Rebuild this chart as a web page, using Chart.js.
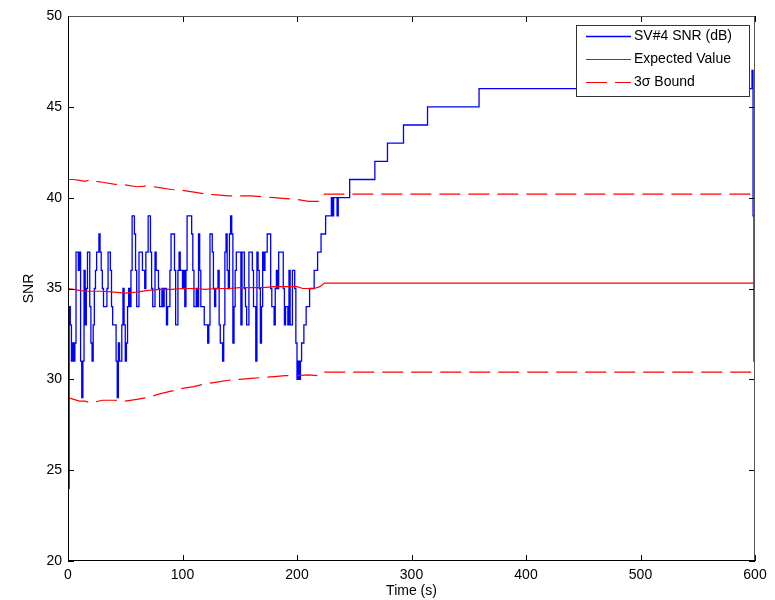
<!DOCTYPE html>
<html lang="en">
<head>
<meta charset="UTF-8">
<title>SV#4 SNR</title>
<script src="https://cdn.jsdelivr.net/npm/chart.js"></script>
<style>
  html, body { margin: 0; padding: 0; background: #fff; }
  #wrap { width: 775px; height: 600px; }
</style>
</head>
<body>
<div id="wrap"><canvas id="snrChart" width="775" height="600"></canvas></div>
<script>
// SNR samples, one per second from t = 0 s
const snrNoisy = [
  24,34,33,31,32,31,32,37,37,36,
  37,31,29,31,36,33,35,37,37,34,
  32,31,33,35,36,37,37,38,37,36,
  35,34,34,34,35,37,37,36,34,33,
  33,33,31,29,32,31,31,33,35,33,
  31,32,34,35,34,36,39,39,38,36,
  34,34,37,37,37,36,36,35,37,37,
  39,39,37,35,34,34,37,36,36,35,
  34,34,35,34,35,35,33,34,34,36,
  38,38,38,36,33,33,36,37,36,36,
  35,36,34,36,39,39,39,39,38,36,
  34,34,35,34,38,36,34,34,34,33,
  33,33,32,33,38,38,37,35,34,35,
  35,36,33,32,32,31,33,37,38,36,
  35,38,39,38,32,34,36,37,37,37,
  37,33,37,37,35,34,33,33,37,37,
  37,36,34,34,31,37,36,35,32,34,
  37,36,37,37,38,38,38,35,34,34,
  33,35,36,35,37,37,37,37,35,33,
  34,34,33,36,33,33,36,36,35,32,
  30,31,30,31,32,32,33,33,34,34,
  34,35,35,35,35,36,36,36,37,37,
  37,38,38,38,38,39,39,39,39,39,
  40,39,40,40,40,39,40,40,40
];
// later SNR steps
const snrStepTimes  = [246, 268, 279, 293, 314, 359, 597.4, 598.3, 599.1, 600];
const snrStepValues = [41,  42,  43,  44,  45,  46,  47,    39,    31,    31];

// expected value
const expTimes  = [0, 5, 10, 15, 20, 30, 40, 50, 60, 70, 80, 90, 100, 110, 120, 130, 140, 150, 160, 170, 180, 190, 200, 205, 210, 215, 220, 224, 600];
const expValues = [35.0, 34.95, 34.9, 34.85, 34.85, 34.85, 34.8, 34.75, 34.8, 34.9, 34.95, 34.95, 35.0, 35.0, 34.95, 35.0, 35.0, 35.05, 35.05, 35.05, 35.1, 35.1, 35.1, 35.0, 35.0, 35.0, 35.1, 35.3, 35.3];

// 3 sigma bounds
const upTimes  = [0, 5, 10, 15, 20, 25, 30, 40, 50, 60, 70, 80, 90, 100, 110, 120, 130, 140, 150, 160, 170, 180, 190, 200, 210, 219, 224, 600];
const upValues = [41.0, 41.0, 40.95, 40.9, 41.0, 40.9, 40.85, 40.75, 40.7, 40.6, 40.65, 40.55, 40.45, 40.4, 40.3, 40.2, 40.15, 40.1, 40.1, 40.1, 40.05, 40.0, 39.95, 39.9, 39.8, 39.8, 40.2, 40.2];
const loTimes  = [0, 5, 10, 15, 20, 30, 40, 50, 60, 70, 80, 90, 100, 110, 120, 130, 140, 150, 160, 170, 180, 190, 200, 210, 219, 224, 600];
const loValues = [29.0, 28.9, 28.8, 28.8, 28.7, 28.85, 28.85, 28.8, 28.9, 29.0, 29.2, 29.35, 29.5, 29.6, 29.75, 29.85, 29.95, 30.0, 30.05, 30.1, 30.15, 30.2, 30.2, 30.25, 30.2, 30.4, 30.4];

const xTicks = [0, 100, 200, 300, 400, 500, 600];
const yTicks = [20, 25, 30, 35, 40, 45, 50];

function pairs(xs, ys) {
  return xs.map((x, i) => ({ x: x, y: ys[i] }));
}

const snrData = snrNoisy.map((v, i) => ({ x: i, y: v })).concat(pairs(snrStepTimes, snrStepValues));

const FONT = { family: 'Arial, "Liberation Sans", sans-serif', size: 14 };

// box, inward ticks and the legend, MATLAB style
const boxPlugin = {
  id: 'boxPlugin',
  afterDraw(chart) {
    const ctx = chart.ctx;
    const ca = chart.chartArea;
    const xs = chart.scales.x, ys = chart.scales.y;
    ctx.save();
    ctx.lineWidth = 1;

    // ticks
    ctx.strokeStyle = '#000';
    ctx.beginPath();
    xTicks.forEach(v => {
      const px = Math.round(xs.getPixelForValue(v)) + 0.5;
      ctx.moveTo(px, ca.bottom); ctx.lineTo(px, ca.bottom - 6);
      ctx.moveTo(px, ca.top); ctx.lineTo(px, ca.top + 6);
    });
    yTicks.forEach(v => {
      const py = Math.round(ys.getPixelForValue(v)) + 0.5;
      ctx.moveTo(ca.left, py); ctx.lineTo(ca.left + 6, py);
      ctx.moveTo(ca.right, py); ctx.lineTo(ca.right - 6, py);
    });
    ctx.stroke();

    // box
    ctx.strokeStyle = '#555';
    ctx.beginPath();
    ctx.moveTo(ca.left, ca.top + 0.5); ctx.lineTo(ca.right - 0.5, ca.top + 0.5);
    ctx.lineTo(ca.right - 0.5, ca.bottom);
    ctx.stroke();
    ctx.strokeStyle = '#000';
    ctx.beginPath();
    ctx.moveTo(ca.left + 0.5, ca.top); ctx.lineTo(ca.left + 0.5, ca.bottom - 0.5);
    ctx.lineTo(ca.right, ca.bottom - 0.5);
    ctx.stroke();

    // legend (one entry per named dataset)
    const lx = 576.5, ly = 25.5, lw = 173, lh = 71;
    ctx.fillStyle = '#fff';
    ctx.fillRect(lx, ly, lw, lh);
    ctx.strokeStyle = '#333';
    ctx.strokeRect(lx, ly, lw, lh);
    ctx.font = FONT.size + 'px ' + FONT.family;
    ctx.textBaseline = 'middle';
    chart.data.datasets.filter(ds => ds.label).forEach((ds, i) => {
      const y = 36.5 + i * 23;
      ctx.strokeStyle = ds.borderColor;
      ctx.lineWidth = ds.borderWidth;
      ctx.setLineDash(ds.borderDash || []);
      ctx.beginPath();
      ctx.moveTo(586, y); ctx.lineTo(631, y);
      ctx.stroke();
      ctx.setLineDash([]);
      ctx.fillStyle = '#000';
      ctx.fillText(ds.label, 634, y);
    });
    ctx.restore();
  }
};

new Chart(document.getElementById('snrChart'), {
  type: 'line',
  data: {
    datasets: [
      { label: 'SV#4 SNR (dB)', data: snrData, borderColor: '#0000ff', borderWidth: 1.3, stepped: true, order: 3 },
      { label: 'Expected Value', data: pairs(expTimes, expValues), borderColor: '#ff0000', borderWidth: 1.2, order: 2 },
      { label: '3\u03c3 Bound', data: pairs(upTimes, upValues), borderColor: '#ff0000', borderWidth: 1.2, borderDash: [21, 8], order: 1 },
      { label: '', data: pairs(loTimes, loValues), borderColor: '#ff0000', borderWidth: 1.2, borderDash: [21, 8], order: 1 }
    ]
  },
  options: {
    responsive: false,
    animation: false,
    events: [],
    layout: { padding: { top: 16, right: 20, left: 0, bottom: 0 } },
    elements: { point: { radius: 0 }, line: { tension: 0 } },
    plugins: { legend: { display: false }, tooltip: { enabled: false } },
    scales: {
      x: {
        type: 'linear', min: 0, max: 600,
        grid: { display: false, drawTicks: false },
        border: { display: false },
        ticks: { stepSize: 100, color: '#000', font: FONT, padding: 6, maxRotation: 0 },
        title: { display: true, text: 'Time (s)', color: '#000', font: FONT, padding: { top: 0, bottom: 0 } },
        afterFit(scale) { scale.height = 39; }
      },
      y: {
        type: 'linear', min: 20, max: 50,
        grid: { display: false, drawTicks: false },
        border: { display: false },
        ticks: { stepSize: 5, color: '#000', font: FONT, padding: 6 },
        title: { display: true, text: 'SNR', color: '#000', font: FONT, padding: { top: 21, bottom: 0 } },
        afterFit(scale) { scale.width = 68; }
      }
    }
  },
  plugins: [boxPlugin]
});
</script>
</body>
</html>
